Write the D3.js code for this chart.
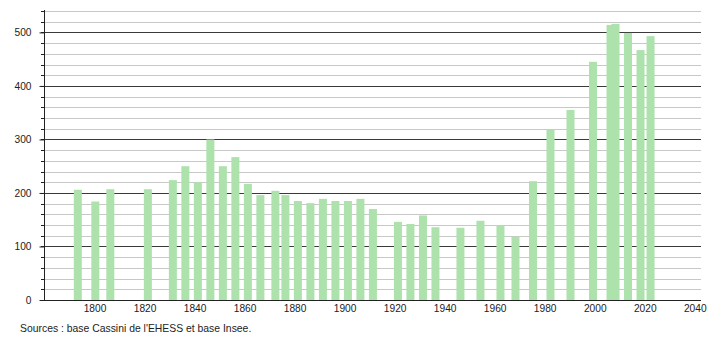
<!DOCTYPE html>
<html>
<head>
<meta charset="utf-8">
<script src="https://cdn.jsdelivr.net/npm/d3@7"></script>
<style>
  body { margin: 0; background: #fff; }
  svg { display: block; font-family: "Liberation Sans", Arial, sans-serif; }
</style>
</head>
<body>
<div id="chart"></div>
<script>
// census years and population
var years = [1793, 1800, 1806, 1821, 1831, 1836, 1841, 1846, 1851, 1856, 1861, 1866,
  1872, 1876, 1881, 1886, 1891, 1896, 1901, 1906, 1911, 1921, 1926, 1931, 1936,
  1946, 1954, 1962, 1968, 1975, 1982, 1990, 1999, 2006, 2008, 2013, 2018, 2022];
var population = [206, 184, 207, 207, 224, 250, 220, 300, 250, 267, 217, 196,
  204, 196, 185, 181, 189, 185, 185, 189, 170, 146, 142, 158, 136,
  135, 148, 140, 118, 222, 318, 355, 445, 514, 516, 499, 467, 493];
var xTicks = [1800, 1820, 1840, 1860, 1880, 1900, 1920, 1940, 1960, 1980, 2000, 2020, 2040];
var yTicks = [0, 100, 200, 300, 400, 500];
var source = "Sources : base Cassini de l'EHESS et base Insee.";

var width = 710, height = 340;
var svg = d3.select('#chart').append('svg').attr('width', width).attr('height', height);

var x = d3.scaleLinear().domain([1780, 2042.5]).range([44.5, 701]);
var y = d3.scaleLinear().domain([0, 540]).range([300, 11]);

// grid every 20, darker every 100
var grid = d3.range(20, 541, 20);
svg.append('g').selectAll('line')
  .data(grid)
  .enter()
  .append('line')
  .attr('x1', 44).attr('x2', 701)
  .attr('y1', function (d) { return Math.round(y(d)) + 0.5; })
  .attr('y2', function (d) { return Math.round(y(d)) + 0.5; })
  .attr('stroke', function (d) { return d % 100 === 0 ? '#3a3a3a' : '#c8c8c8'; })
  .attr('stroke-width', 1);

// bars
var data = years.map(function (yr, i) { return { year: yr, value: population[i] }; });
svg.append('g').selectAll('rect')
  .data(data)
  .enter()
  .append('rect')
  .attr('x', function (d) { return x(d.year) - 3.2; })
  .attr('width', 8)
  .attr('y', function (d) { return y(d.value); })
  .attr('height', function (d) { return y(0) - y(d.value); })
  .attr('fill', '#ade2ad');

// y axis: major ticks with labels, minor ticks every 20
var yAxis = d3.axisLeft(y).tickValues(yTicks).tickSize(5).tickPadding(8).tickFormat(d3.format('d'));
var yg = svg.append('g').attr('transform', 'translate(44.5,0)').call(yAxis);
yg.select('.domain').remove();
yg.selectAll('line').attr('stroke', '#222');
yg.selectAll('text').attr('font-size', 10.2).attr('fill', '#222').attr('font-family', null);

svg.append('g').selectAll('line')
  .data(grid.concat([0]))
  .enter()
  .append('line')
  .attr('x1', 41).attr('x2', 44.5)
  .attr('y1', function (d) { return Math.round(y(d)) + 0.5; })
  .attr('y2', function (d) { return Math.round(y(d)) + 0.5; })
  .attr('stroke', '#222');

svg.append('line')
  .attr('x1', 44.5).attr('x2', 44.5)
  .attr('y1', 10).attr('y2', 300.5)
  .attr('stroke', '#222');

// x axis
var xAxis = d3.axisBottom(x).tickValues(xTicks).tickSize(0).tickPadding(4).tickFormat(d3.format('d'));
var xg = svg.append('g').attr('transform', 'translate(0,300.5)').call(xAxis);
xg.select('.domain').remove();
xg.selectAll('text').attr('font-size', 10.2).attr('fill', '#222').attr('font-family', null);

svg.append('line')
  .attr('x1', 40).attr('x2', 701)
  .attr('y1', 300.5).attr('y2', 300.5)
  .attr('stroke', '#222');

svg.append('text')
  .attr('x', 20).attr('y', 332)
  .attr('font-size', 10.4)
  .attr('fill', '#222')
  .text(source);
</script>
</body>
</html>
